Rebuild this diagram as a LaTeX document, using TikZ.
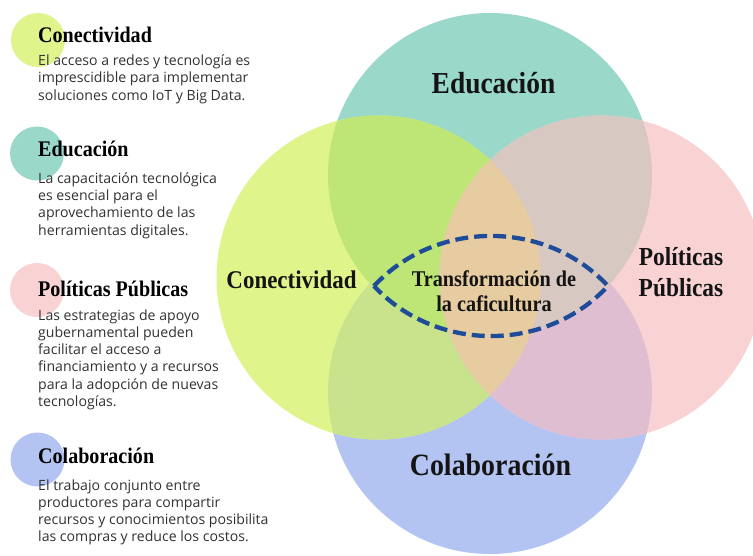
\documentclass[tikz,border=0pt]{standalone}
\usepackage{fontspec}
\setmainfont{Open Sans}
\newfontfamily\hd[FakeStretch=0.9]{Liberation Serif}
\definecolor{cTeal}{RGB}{154,216,202}
\definecolor{cGreen}{RGB}{223,245,140}
\definecolor{cPink}{RGB}{249,211,211}
\definecolor{cBlue}{RGB}{180,196,242}
\definecolor{cEC}{RGB}{189,230,118}
\definecolor{cEP}{RGB}{215,201,194}
\definecolor{cCK}{RGB}{201,226,140}
\definecolor{cPK}{RGB}{224,190,210}
\definecolor{cCP}{RGB}{231,204,161}
\definecolor{eyeblue}{RGB}{30,76,152}
\definecolor{bodygray}{RGB}{50,50,50}
\newcommand{\twolines}[3]{\vtop{\baselineskip=#1\halign{\hfil##\hfil\cr #2\cr #3\cr}}}
\newcommand{\para}[1]{\vtop{\baselineskip=17.3pt\lineskiplimit=-20pt #1}}
\begin{document}
\begin{tikzpicture}[x=1pt,y=-1pt,
  hdleg/.style={anchor=base west,inner sep=0pt,font=\hd\bfseries\fontsize{22.3}{24}\selectfont,text=black},
  body/.style={anchor=base west,inner sep=0pt,font=\fontsize{14.1}{17.3}\selectfont,text=bodygray},
  big/.style={anchor=base,inner sep=0pt,text=black!92},
  eye/.style={draw=eyeblue,line width=4.3pt,dash pattern=on 13pt off 6pt}]
\useasboundingbox (0,0) rectangle (753,556);
\fill[white] (0,0) rectangle (753,556);
\coordinate (cE) at (490,175);
\coordinate (cK) at (490,392);
\coordinate (cC) at (378.5,277.5);
\coordinate (cP) at (601.5,277.5);
% base circles
\fill[cTeal] (cE) circle[radius=162pt];
\fill[cBlue] (cK) circle[radius=162pt];
\fill[cGreen] (cC) circle[radius=162pt];
\fill[cPink] (cP) circle[radius=162pt];
% overlaps
\begin{scope}\clip (cC) circle[radius=162pt]; \fill[cCK] (cK) circle[radius=162pt];\end{scope}
\begin{scope}\clip (cP) circle[radius=162pt]; \fill[cPK] (cK) circle[radius=162pt];\end{scope}
\begin{scope}\clip (cC) circle[radius=162pt]; \fill[cEC] (cE) circle[radius=162pt];\end{scope}
\begin{scope}\clip (cP) circle[radius=162pt]; \fill[cEP] (cE) circle[radius=162pt];\end{scope}
\begin{scope}\clip (cC) circle[radius=162pt]; \fill[cCP] (cP) circle[radius=162pt];\end{scope}
% eye
\coordinate (eL) at (374,286);
\coordinate (eR) at (608,286);
\draw[eye] (eL) to[bend left=47] (eR) to[bend left=47] (eL);
% big labels
\node[big,font=\hd\bfseries\fontsize{30.5}{32}\selectfont] (lE) at (493.5,94) {Educación};
\node[big,font=\hd\bfseries\fontsize{31}{33}\selectfont] (lK) at (490.5,475) {Colaboración};
\node[big,font=\hd\bfseries\fontsize{25.5}{27}\selectfont] (lC) at (291.5,289) {Conectividad};
\node[big,font=\hd\bfseries\fontsize{26}{28}\selectfont] (lP) at (681,266) {\twolines{31pt}{Políticas}{Públicas}};
\node[big,font=\hd\bfseries\fontsize{22.5}{24}\selectfont] (lT) at (494,287) {\twolines{25pt}{Transformación de}{la caficultura}};
% legend circles
\fill[cGreen] (38,40) circle[radius=27pt];
\fill[cTeal] (37,153.5) circle[radius=27pt];
\fill[cPink] (37,290) circle[radius=27pt];
\fill[cBlue] (37.5,459.5) circle[radius=27pt];
% legend text
\node[hdleg] (hC) at (38,43) {Conectividad};
\node[body] (bC) at (38,65.7) {\para{\hbox{El acceso a redes y tecnología es}\hbox{imprescidible para implementar}\hbox{soluciones como IoT y Big Data.}}};
\node[hdleg] (hE) at (38,156.7) {Educación};
\node[body] (bE) at (38,183.3) {\para{\hbox{La capacitación tecnológica}\hbox{es esencial para el}\hbox{aprovechamiento de las}\hbox{herramientas digitales.}}};
\node[hdleg] (hP) at (38,296.7) {Políticas Públicas};
\node[body] (bP) at (38,320) {\para{\hbox{Las estrategias de apoyo}\hbox{gubernamental pueden}\hbox{facilitar el acceso a}\hbox{financiamiento y a recursos}\hbox{para la adopción de nuevas}\hbox{tecnologías.}}};
\node[hdleg] (hK) at (38,463) {Colaboración};
\node[body] (bK) at (38,490) {\para{\hbox{El trabajo conjunto entre}\hbox{productores para compartir}\hbox{recursos y conocimientos posibilita}\hbox{las compras y reduce los costos.}}};
\end{tikzpicture}
\end{document}
